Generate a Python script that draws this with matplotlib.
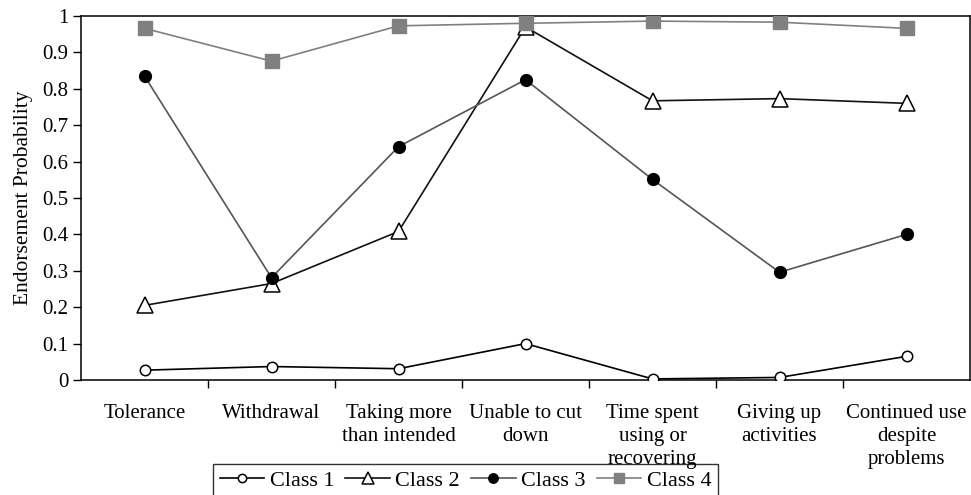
import matplotlib
matplotlib.use("Agg")
import matplotlib.pyplot as plt
import numpy as np

categories = ["Tolerance", "Withdrawal", "Taking more\nthan intended", "Unable to cut\ndown",
              "Time spent\nusing or\nrecovering", "Giving up\nactivities", "Continued use\ndespite\nproblems"]
class1 = [0.027, 0.037, 0.031, 0.100, 0.003, 0.007, 0.065]
class2 = [0.205, 0.265, 0.408, 0.970, 0.767, 0.773, 0.760]
class3 = [0.835, 0.281, 0.641, 0.825, 0.551, 0.296, 0.400]
class4 = [0.966, 0.876, 0.973, 0.980, 0.986, 0.983, 0.966]
series_names = ["Class 1", "Class 2", "Class 3", "Class 4"]
yticks = [0, 0.1, 0.2, 0.3, 0.4, 0.5, 0.6, 0.7, 0.8, 0.9, 1]
ytick_labels = ["0", "0.1", "0.2", "0.3", "0.4", "0.5", "0.6", "0.7", "0.8", "0.9", "1"]

plt.rcParams['font.family'] = ['Liberation Serif', 'DejaVu Serif']

fig = plt.figure(figsize=(9.71, 4.95), dpi=100)
ax = fig.add_axes([81/971, 1-380/495, (970-81)/971, 364/495])

x = np.arange(len(categories))
ax.plot(x, class1, color='black', lw=1.2, marker='o', ms=7.5, mfc='white', mec='black', mew=1.1, label=series_names[0], zorder=3)
ax.plot(x, class2, color='#111111', lw=1.2, marker='^', ms=11, mfc='white', mec='black', mew=1.1, label=series_names[1], zorder=3)
ax.plot(x, class3, color='#555555', lw=1.2, marker='o', ms=8.5, mfc='black', mec='black', label=series_names[2], zorder=3)
ax.plot(x, class4, color='#808080', lw=1.2, marker='s', ms=9.5, mfc='#808080', mec='#808080', label=series_names[3], zorder=3)

ax.set_xlim(-0.5, len(categories) - 0.5)
ax.set_ylim(0, 1)
ax.set_yticks(yticks)
ax.set_yticklabels(ytick_labels, fontsize=15)
ax.set_xticks(np.arange(0.5, len(categories) - 0.5, 1))
ax.set_xticklabels([])
ax.set_xticks(x, minor=True)
ax.set_xticklabels(categories, minor=True, fontsize=15, linespacing=1.3)
ax.tick_params(axis='x', which='minor', length=0, pad=17)
ax.tick_params(axis='x', which='major', direction='out', length=6, width=1)
ax.tick_params(axis='y', direction='out', length=6, width=1, pad=3)
for s in ax.spines.values():
    s.set_linewidth(1.1)
ax.set_ylabel("Endorsement Probability", fontsize=15.5, labelpad=7)

leg = fig.legend(loc='upper center', bbox_to_anchor=(465.5/971, 1-464/495), bbox_transform=fig.transFigure,
                 ncol=4, fontsize=16, frameon=True, fancybox=False, edgecolor='black',
                 handlelength=2.0, handletextpad=0.25, columnspacing=0.5, borderpad=0.3,
                 borderaxespad=0, markerscale=0.8)
leg.get_frame().set_linewidth(1.0)
leg.set_zorder(-1)

fig.savefig("out.png", dpi=100)
